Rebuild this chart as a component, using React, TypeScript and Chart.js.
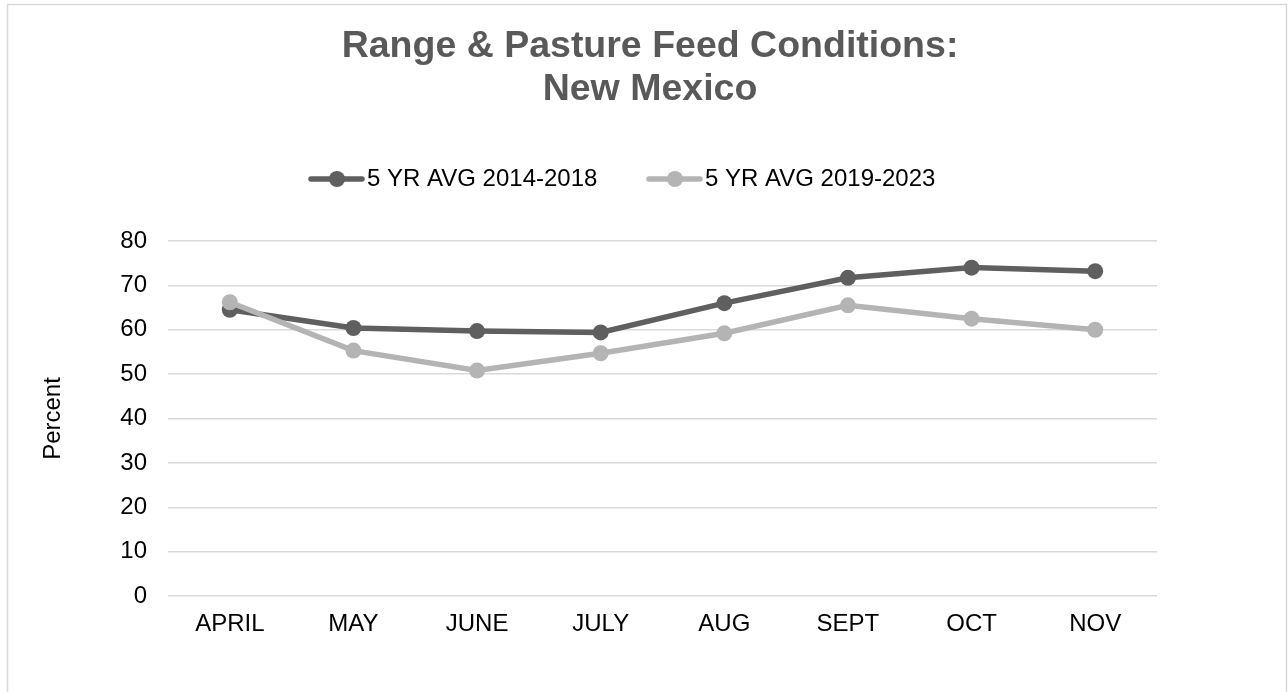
import React, { useEffect, useRef } from "react";
import { Chart, registerables } from "chart.js";

Chart.register(...registerables);

const categories = ["APRIL", "MAY", "JUNE", "JULY", "AUG", "SEPT", "OCT", "NOV"];
const avg2014to2018 = [64.5, 60.4, 59.7, 59.4, 66.0, 71.7, 74.0, 73.2];
const avg2019to2023 = [66.2, 55.3, 50.8, 54.7, 59.2, 65.5, 62.5, 60.0];
const seriesLabels = ["5 YR AVG 2014-2018", "5 YR AVG 2019-2023"];
const titleLines = ["Range & Pasture Feed Conditions:", "New Mexico"];
const yAxisTitle = "Percent";
const yMin = 0;
const yMax = 80;
const yStep = 10;

const FONT = "'Liberation Sans', Arial, Helvetica, sans-serif";
const DARK = "#5f5f5f";
const LIGHT = "#b4b4b4";
const BODY_SIZE = 24;

const frameAndLegend = {
  id: "frameAndLegend",
  beforeDraw(chart: any) {
    const ctx = chart.ctx;
    ctx.save();
    ctx.fillStyle = "#ffffff";
    ctx.fillRect(0, 0, chart.width, chart.height);
    ctx.strokeStyle = "#d9d9d9";
    ctx.lineWidth = 1.5;
    ctx.strokeRect(7.5, 4.5, 1279, 720);
    ctx.restore();
  },
  afterDraw(chart: any) {
    const ctx = chart.ctx;
    const starts = [309, 647];
    const y = 179;
    ctx.save();
    chart.data.datasets.forEach((ds: any, i: number) => {
      const x0 = starts[i];
      ctx.strokeStyle = ds.borderColor;
      ctx.lineWidth = 5.5;
      ctx.lineCap = "round";
      ctx.beginPath();
      ctx.moveTo(x0 + 2, y);
      ctx.lineTo(x0 + 53, y);
      ctx.stroke();
      ctx.fillStyle = ds.borderColor;
      ctx.beginPath();
      ctx.arc(x0 + 28, y, 8, 0, Math.PI * 2);
      ctx.fill();
      ctx.fillStyle = "#000000";
      ctx.font = `${BODY_SIZE}px ${FONT}`;
      ctx.textBaseline = "middle";
      ctx.textAlign = "left";
      ctx.fillText(ds.label, x0 + 58, y);
    });
    ctx.restore();
  },
};

export default function App() {
  const ref = useRef<HTMLCanvasElement | null>(null);

  useEffect(() => {
    if (!ref.current) return;
    const chart = new Chart(ref.current, {
      type: "line",
      data: {
        labels: categories,
        datasets: [
          {
            label: seriesLabels[0],
            data: avg2014to2018,
            borderColor: DARK,
            backgroundColor: DARK,
            borderWidth: 5.5,
            pointRadius: 8,
            pointBackgroundColor: DARK,
            pointBorderWidth: 0,
            tension: 0,
            order: 1,
          },
          {
            label: seriesLabels[1],
            data: avg2019to2023,
            borderColor: LIGHT,
            backgroundColor: LIGHT,
            borderWidth: 5.5,
            pointRadius: 8,
            pointBackgroundColor: LIGHT,
            pointBorderWidth: 0,
            tension: 0,
            order: 0,
          },
        ],
      },
      options: {
        responsive: false,
        animation: false,
        devicePixelRatio: 1,
        layout: { padding: { left: 20, right: 8, top: 0, bottom: 0 } },
        plugins: {
          legend: { display: false },
          tooltip: { enabled: false },
          title: {
            display: true,
            text: titleLines,
            color: "#595959",
            font: { family: FONT, size: 37.5, weight: "bold", lineHeight: 1.14 },
            padding: { top: 25.5, bottom: 130 },
          },
        },
        scales: {
          x: {
            offset: true,
            grid: { display: false, drawTicks: false, offset: true },
            border: { display: false },
            ticks: {
              color: "#000000",
              font: { family: FONT, size: BODY_SIZE },
              padding: 14,
              maxRotation: 0,
            },
            afterFit: (s: any) => {
              s.height = 96;
            },
          },
          y: {
            min: yMin,
            max: yMax,
            grid: { color: "#d9d9d9", lineWidth: 1.5, drawTicks: false },
            border: { display: false },
            ticks: {
              stepSize: yStep,
              color: "#000000",
              font: { family: FONT, size: BODY_SIZE },
              padding: 21,
            },
            title: {
              display: true,
              text: yAxisTitle,
              color: "#000000",
              font: { family: FONT, size: BODY_SIZE },
              padding: { top: 19, bottom: 0 },
            },
            afterFit: (s: any) => {
              s.width = 148;
            },
          },
          yRight: {
            position: "right",
            display: true,
            grid: { display: false, drawTicks: false },
            border: { display: false },
            ticks: { display: false },
            afterFit: (s: any) => {
              s.width = 123;
            },
          },
        },
      },
      plugins: [frameAndLegend],
    } as any);
    return () => chart.destroy();
  }, []);

  return (
    <div style={{ position: "absolute", left: 0, top: 0, width: 1288, height: 692 }}>
      <canvas ref={ref} width={1288} height={692} />
    </div>
  );
}
